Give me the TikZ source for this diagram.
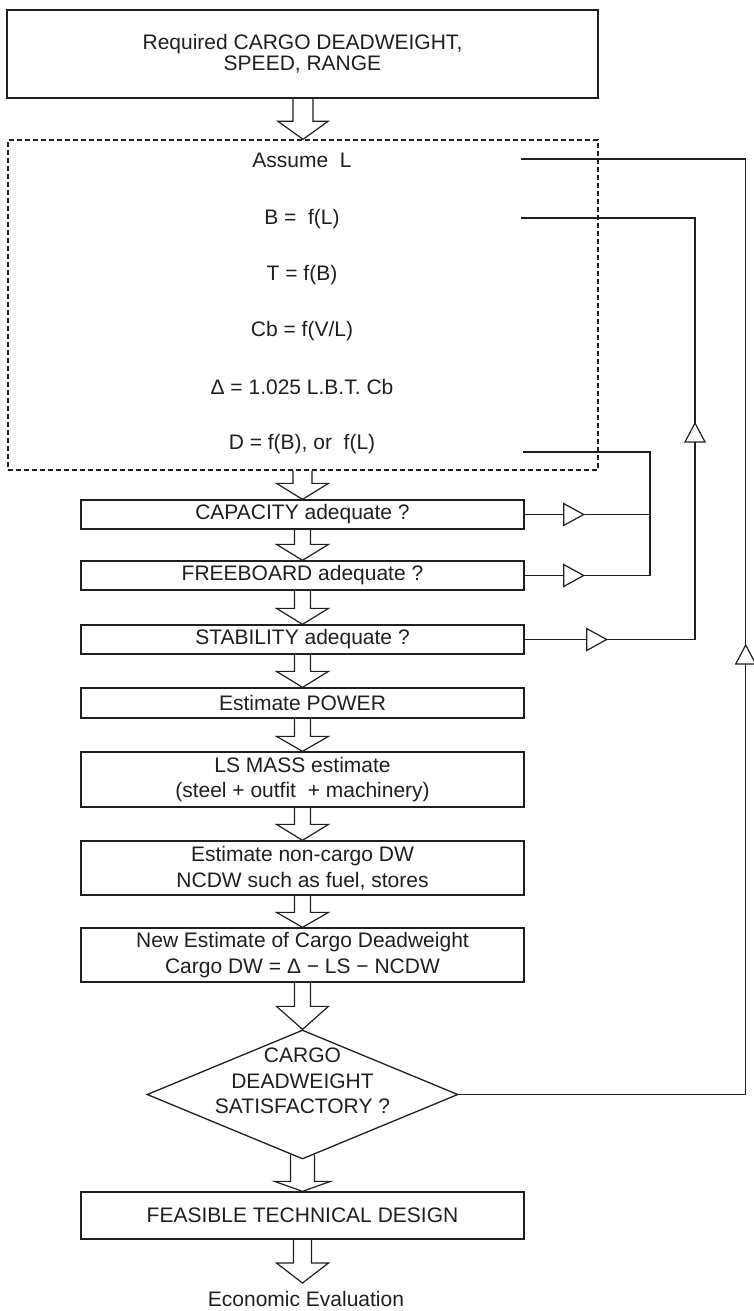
\documentclass[tikz,border=0pt]{standalone}
\usepackage{fontspec}
\setmainfont{Liberation Sans}
\usetikzlibrary{calc,shapes.geometric}
\tikzset{
  ink/.style={draw=black!88, line width=1.3pt, line join=miter},
  box/.style={ink, rectangle, minimum width=443pt, inner sep=0pt, align=center,
    font=\fontsize{21}{25.5}\selectfont, text=black!88},
  plain/.style={inner sep=0pt, align=center, font=\fontsize{21}{25.5}\selectfont, text=black!88},
  hollow/.style={draw=black!88, line width=1.2pt, line join=miter},
  conn/.style={draw=black!88, line width=1.2pt},
  tri/.style={draw=black!88, line width=1.2pt, fill=white, line join=miter},
}
\newcommand\harrow[5]{\draw[hollow] let \p1=(#1), \p2=(#2) in
  (\x2-#3pt,\y1) -- (\x2-#3pt,\y2+#5pt) -- (\x2-#4pt,\y2+#5pt) -- (\x2,\y2) --
  (\x2+#4pt,\y2+#5pt) -- (\x2+#3pt,\y2+#5pt) -- (\x2+#3pt,\y1);}
\newcommand\rtri[2]{\draw[tri] ($(#1)+(#2-20,-11)$) -- ($(#1)+(#2,0)$) -- ($(#1)+(#2-20,11)$) -- cycle;}
\newcommand\utri[2]{\draw[tri] ($(#1)+(-10,#2+19)$) -- ($(#1)+(0,#2)$) -- ($(#1)+(10,#2+19)$) -- cycle;}
\begin{document}
\begin{tikzpicture}[x=1pt,y=-1pt]
\useasboundingbox (0,0) rectangle (754,1311);

% top box
\node[box, minimum width=591pt, minimum height=88pt, font=\fontsize{21}{21}\selectfont] (req) at (302.5,54)
  {Required CARGO DEADWEIGHT,\\SPEED, RANGE};

% dashed block
\node[ink, dash pattern=on 5pt off 3pt, minimum width=590pt, minimum height=330pt, inner sep=0pt] (dbox) at (303,305) {};
\node[plain, anchor=base] (tL) at (302,167.5) {Assume\ \ L};
\node[plain, anchor=base] (tB) at (302,224.5) {B =\ \ f(L)};
\node[plain, anchor=base] (tT) at (302,280.5) {T = f(B)};
\node[plain, anchor=base] (tC) at (302,336.5) {Cb = f(V/L)};
\node[plain, anchor=base] (tD) at (302,394.5) {Δ = 1.025 L.B.T. Cb};
\node[plain, anchor=base] (tDD) at (302,449.5) {D = f(B), or\ \ f(L)};

% boxes
\node[box, minimum height=29pt] (cap) at (302.5,514.5) {CAPACITY adequate ?};
\node[box, minimum height=29pt] (free) at (302.5,575.5) {FREEBOARD adequate ?};
\node[box, minimum height=29pt] (stab) at (302.5,639.5) {STABILITY adequate ?};
\node[box, minimum height=30pt] (pow) at (302.5,703) {Estimate POWER};
\node[box, minimum height=55pt] (ls) at (302.5,779.5) {LS MASS estimate\\(steel + outfit\ \ + machinery)};
\node[box, minimum height=54pt] (nc) at (302.5,868) {Estimate non-cargo DW\\NCDW such as fuel, stores};
\node[box, minimum height=54pt] (new) at (302.5,955) {New Estimate of Cargo Deadweight\\Cargo DW = Δ − LS − NCDW};
\node[ink, diamond, minimum width=311pt, minimum height=129pt, inner sep=0pt,
  label={[plain, yshift=13.5pt]center:CARGO\\DEADWEIGHT\\SATISFACTORY ?}] (dia) at (302.5,1094.5) {};
\node[box, minimum height=47pt] (feas) at (302.5,1215.5) {FEASIBLE TECHNICAL DESIGN};
\node[plain, anchor=base] (eco) at (306,1306.5) {Economic Evaluation};
\coordinate (ecoTop) at (302.5,1283);

% hollow arrows
\harrow{req.south}{dbox.north}{10}{25}{18}
\harrow{dbox.south}{cap.north}{9.5}{26}{16}
\harrow{cap.south}{free.north}{8}{26}{16}
\harrow{free.south}{stab.north}{8}{26}{16}
\harrow{stab.south}{pow.north}{8}{26}{16}
\harrow{pow.south}{ls.north}{8}{26}{15}
\harrow{ls.south}{nc.north}{8}{26}{16}
\harrow{nc.south}{new.north}{8}{26}{15}
\harrow{new.south}{dia.north}{8}{26}{23}
\harrow{$(dia.south)+(0,-5)$}{feas.north}{12}{28}{10}
\harrow{feas.south}{ecoTop}{9}{26}{20}

% feedback connectors
\coordinate (aL) at (521,159);
\coordinate (oTR) at (745.7,159);
\coordinate (bL) at (521,218);
\coordinate (bTR) at (695,218);
\coordinate (dL) at (523,452);
\coordinate (dTR) at (650,452);

\draw[conn] (dia.east) -| (oTR) -- (aL);
\draw[conn] (stab.east) -| (bTR) -- (bL);
\draw[conn] (dL) -- (dTR) |- (free.east);
\draw[conn] (cap.east) -- (cap.east -| dTR);

\rtri{cap.east}{59}
\rtri{free.east}{59}
\rtri{stab.east}{82}
\utri{bTR}{205}
\utri{oTR}{486}
\end{tikzpicture}
\end{document}
